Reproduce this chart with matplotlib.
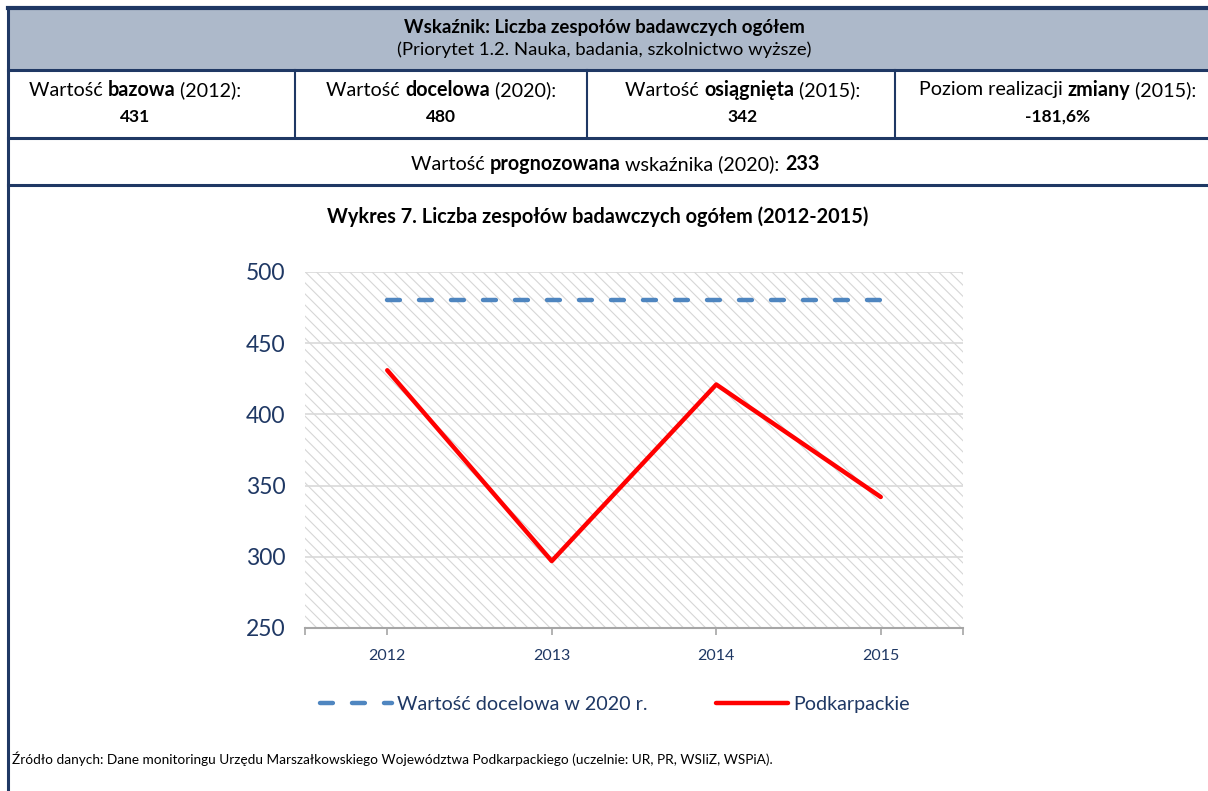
import matplotlib
matplotlib.use("Agg")
import matplotlib.pyplot as plt
from matplotlib.patches import Rectangle
from matplotlib.lines import Line2D

plt.rcParams['font.family'] = ['Lato', 'DejaVu Sans']
plt.rcParams['hatch.linewidth'] = 0.8

# dane
lata = ['2012', '2013', '2014', '2015']
podkarpackie = [431, 297, 421, 342]
docelowa = [480, 480, 480, 480]
y_ticks = [250, 300, 350, 400, 450, 500]

naglowek = 'Wskaźnik: Liczba zespołów badawczych ogółem'
podtytul = '(Priorytet 1.2. Nauka, badania, szkolnictwo wyższe)'
komorki = [
    [('Wartość ', False), ('bazowa', True), (' (2012):', False)],
    [('Wartość ', False), ('docelowa', True), (' (2020):', False)],
    [('Wartość ', False), ('osiągnięta', True), (' (2015):', False)],
    [('Poziom realizacji ', False), ('zmiany', True), (' (2015):', False)],
]
wartosci = ['431', '480', '342', '-181,6%']
prognoza = [('Wartość ', False), ('prognozowana', True), (' wskaźnika (2020): ', False), ('233', True)]
tytul = 'Wykres 7. Liczba zespołów badawczych ogółem (2012-2015)'
zrodlo = 'Źródło danych: Dane monitoringu Urzędu Marszałkowskiego Województwa Podkarpackiego (uczelnie: UR, PR, WSIiZ, WSPiA).'

W, H = 1208, 791
NAVY = '#1f3864'
fig = plt.figure(figsize=(W / 100, H / 100), dpi=100)
renderer = fig.canvas.get_renderer()


def fx(x):
    return x / W


def fy(y):
    return 1 - y / H


def hline(y, x0=8, x1=W, lw=2.2):
    fig.add_artist(Line2D([fx(x0), fx(x1)], [fy(y), fy(y)], color=NAVY, lw=lw))


def vline(x, y0, y1, lw=2.2):
    fig.add_artist(Line2D([fx(x), fx(x)], [fy(y0), fy(y1)], color=NAVY, lw=lw))


def rich(xc, y, parts, size=14):
    # tekst z pogrubionymi fragmentami, wyśrodkowany na xc
    texts = []
    for s, b in parts:
        t = fig.text(0, fy(y), s, fontsize=size, fontweight='bold' if b else 'normal',
                     ha='left', va='center', color='black')
        texts.append(t)
    widths = [t.get_window_extent(renderer).width for t in texts]
    x = xc - sum(widths) / 2
    for t, w in zip(texts, widths):
        t.set_x(fx(x))
        x += w


# tabela
fig.add_artist(Rectangle((fx(8), fy(70)), fx(W - 8), fy(8) - fy(70), color='#adb9ca', lw=0))
hline(8, lw=3)
hline(70)
hline(138)
hline(185)
vline(8, 8, H)
for x in [295, 587, 895]:
    vline(x, 70, 138, lw=1.5)

fig.text(fx(604), fy(28), naglowek, fontsize=13.4, fontweight='bold', ha='center', va='center')
fig.text(fx(604), fy(50), podtytul, fontsize=13.3, ha='center', va='center')
for xc, parts, v in zip([135, 441, 743, 1058], komorki, wartosci):
    rich(xc, 90, parts, size=14.2)
    fig.text(fx(xc), fy(117), v, fontsize=12.5, fontweight='bold', ha='center', va='center')
rich(615, 164, prognoza, size=14.2)

fig.text(fx(598), fy(217), tytul, fontsize=14.3, fontweight='bold', ha='center', va='center')
fig.text(fx(12), fy(759), zrodlo, fontsize=9.8, ha='left', va='center')

# wykres
ax = fig.add_axes([fx(305), fy(628), fx(658), (628 - 272) / H])
x = list(range(len(lata)))
ax.add_patch(Rectangle((0, 0), 1, 1, transform=ax.transAxes, facecolor='white',
                       edgecolor='#d6d6d6', lw=0, hatch='\\\\\\', zorder=0))
for yv in y_ticks[1:]:
    ax.axhline(yv, color='#d9d9d9', lw=1.2, zorder=1)

ax.plot(x, docelowa, color='#4f86c0', lw=3.2, dashes=(2.9, 4.3), dash_capstyle='round',
        label='Wartość docelowa w 2020 r.', zorder=3)
ax.plot(x, podkarpackie, color='#ff0000', lw=3.2, solid_capstyle='round',
        label='Podkarpackie', zorder=4)

ax.set_xlim(-0.5, 3.5)
ax.set_ylim(250, 500)
ax.set_yticks(y_ticks)
ax.set_xticks(x)
ax.set_xticklabels(lata)
ax.set_xticks([-0.5, 3.5], minor=True)
for s in ['top', 'right', 'left']:
    ax.spines[s].set_visible(False)
ax.spines['bottom'].set_color('#a6a6a6')
ax.spines['bottom'].set_linewidth(1.5)
ax.tick_params(axis='y', length=0, pad=14, labelsize=16.5, labelcolor=NAVY)
ax.tick_params(axis='x', which='both', length=5, width=1.2, color='#a6a6a6',
               pad=10, labelsize=11.5, labelcolor=NAVY)

leg = ax.legend(loc='center', bbox_to_anchor=(0.471, -0.215), ncol=2, frameon=False,
                fontsize=14.2, handlelength=3.65, columnspacing=3.45, handletextpad=0.25)
for t in leg.get_texts():
    t.set_color(NAVY)

fig.savefig('out.png', dpi=100)
